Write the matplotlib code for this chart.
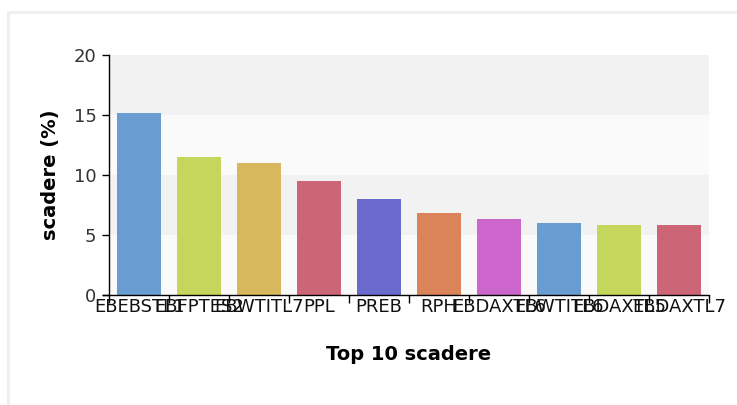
import matplotlib.pyplot as plt
import numpy as np
from matplotlib.lines import Line2D

# Data
labels = ["EBEBSTL1", "EBFPTES2", "EBWTITL7", "PPL", "PREB",
          "RPH", "EBDAXTL6", "EBWTITL6", "EBDAXTL5", "EBDAXTL7"]
values = [15.2, 11.5, 11.0, 9.5, 8.0, 6.85, 6.35, 6.0, 5.85, 5.85]
colors = ["#699dd1", "#c4d65c", "#d8b85c", "#cc6677", "#6a6acc",
          "#db8459", "#cc66cc", "#699dd1", "#c4d65c", "#cc6677"]
yticks = [0, 5, 10, 15, 20]

fig = plt.figure(figsize=(7.37, 4.05), dpi=100)
ax = fig.add_axes([109 / 737, 1 - 295 / 405, 600 / 737, 240 / 405])

# light frame around the chart
fig.add_artist(Line2D([8 / 737, 8 / 737], [0, 1 - 12 / 405], color="#eeeeee", lw=2))
fig.add_artist(Line2D([8 / 737, 1], [1 - 12 / 405, 1 - 12 / 405], color="#eeeeee", lw=2))

# alternating background bands
band_colors = ["#fafafa", "#f2f2f2"]
for i in range(len(yticks) - 1):
    ax.axhspan(yticks[i], yticks[i + 1], color=band_colors[i % 2], lw=0, zorder=0)

x = np.arange(len(values))
ax.bar(x, values, width=0.73, color=colors, zorder=2)

ax.set_xlim(-0.5, len(values) - 0.5)
ax.set_ylim(0, 20)
ax.set_yticks(yticks)
ax.set_yticklabels([str(v) for v in yticks], fontsize=13, color="#333333")

ax.set_xticks(np.arange(-0.5, len(values), 1))
ax.set_xticklabels([])
ax.set_xticks(x, minor=True)
ax.set_xticklabels(labels, minor=True, fontsize=13, color="#111111")
ax.tick_params(axis="x", which="major", direction="out", length=6, width=1)
ax.tick_params(axis="x", which="minor", length=0, pad=2)
ax.tick_params(axis="y", direction="out", length=5, width=1, pad=4)

for s in ["top", "right"]:
    ax.spines[s].set_visible(False)
ax.spines["left"].set_linewidth(1)
ax.spines["bottom"].set_linewidth(1)
ax.spines["bottom"].set_bounds(-0.6, len(values) - 0.5)

ax.set_ylabel("scadere (%)", fontsize=14, fontweight="bold", labelpad=10)
ax.set_xlabel("Top 10 scadere", fontsize=14, fontweight="bold", labelpad=21)

fig.savefig("out.png", dpi=100, facecolor="white")
